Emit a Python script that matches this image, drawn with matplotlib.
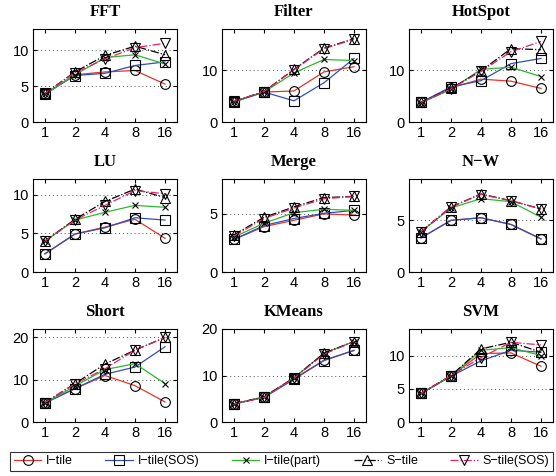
import numpy as np
import matplotlib
matplotlib.use("Agg")
import matplotlib.pyplot as plt

threads = ["1", "2", "4", "8", "16"]
series_names = ["I\u2212tile", "I\u2212tile(SOS)", "I\u2212tile(part)", "S\u2212tile", "S\u2212tile(SOS)"]

# speedup per benchmark: I-tile, I-tile(SOS), I-tile(part), S-tile, S-tile(SOS)
fft = [[3.9, 6.6, 7.0, 7.2, 5.3],
       [3.9, 6.5, 6.8, 7.9, 8.4],
       [3.9, 6.6, 9.0, 9.4, 8.1],
       [4.0, 7.0, 9.3, 10.6, 9.4],
       [4.0, 6.9, 8.8, 10.4, 11.0]]
filt = [[3.9, 5.8, 6.0, 9.7, 10.7],
        [3.9, 5.8, 4.1, 7.6, 12.3],
        [3.9, 5.8, 9.5, 12.1, 11.9],
        [4.0, 5.9, 10.2, 14.3, 16.1],
        [4.0, 5.9, 10.1, 14.2, 16.0]]
hotspot = [[3.8, 6.6, 8.3, 7.9, 6.5],
           [3.8, 6.8, 8.0, 11.3, 12.3],
           [3.7, 6.3, 10.2, 10.6, 8.8],
           [3.8, 6.5, 9.9, 14.2, 14.0],
           [3.8, 6.4, 9.8, 13.6, 15.6]]
lu = [[2.35, 4.9, 5.8, 6.8, 4.35],
      [2.35, 4.9, 5.7, 7.0, 6.7],
      [4.0, 6.7, 7.7, 8.6, 8.35],
      [4.0, 6.8, 9.1, 10.7, 9.6],
      [4.0, 6.7, 8.6, 10.5, 10.1]]
merge = [[2.8, 3.9, 4.45, 5.0, 4.9],
         [2.8, 4.0, 4.6, 5.05, 5.3],
         [3.0, 4.2, 5.1, 5.4, 5.3],
         [3.2, 4.7, 5.6, 6.4, 6.5],
         [3.1, 4.6, 5.5, 6.3, 6.5]]
nw = [[3.3, 5.0, 5.25, 4.6, 3.2],
      [3.3, 5.0, 5.25, 4.6, 3.2],
      [3.9, 6.2, 7.1, 6.8, 5.3],
      [3.9, 6.3, 7.55, 6.9, 6.1],
      [3.9, 6.3, 7.5, 6.9, 6.1]]
short = [[4.5, 7.9, 11.0, 8.6, 4.75],
         [4.5, 7.9, 11.3, 13.0, 17.8],
         [4.5, 8.5, 12.4, 13.8, 9.1],
         [4.6, 9.1, 13.7, 17.0, 20.0],
         [4.6, 9.0, 12.6, 17.0, 20.0]]
kmeans = [[3.9, 5.3, 9.3, 13.3, 15.4],
          [3.9, 5.3, 9.2, 13.2, 15.4],
          [3.9, 5.4, 9.5, 14.8, 17.3],
          [3.9, 5.4, 9.5, 14.8, 17.3],
          [3.9, 5.3, 9.4, 14.6, 17.3]]
svm = [[4.3, 6.9, 10.3, 10.4, 8.4],
       [4.3, 6.9, 9.2, 10.8, 10.5],
       [4.3, 6.9, 10.8, 11.2, 10.0],
       [4.3, 7.0, 11.0, 12.0, 10.5],
       [4.3, 7.0, 9.7, 12.0, 11.6]]

titles = ["FFT", "Filter", "HotSpot", "LU", "Merge", "N\u2212W", "Short", "KMeans", "SVM"]
data = [fft, filt, hotspot, lu, merge, nw, short, kmeans, svm]
ylims = [13, 18, 18, 12, 8, 9, 22, 20, 14]
yticks = [[0, 5, 10], [0, 10], [0, 10], [0, 5, 10], [0, 5], [0, 5],
          [0, 10, 20], [0, 10, 20], [0, 5, 10]]

colors = ["#e8332a", "#2f4fbf", "#2db82d", "black", "#e8226e"]
markers = ["o", "s", "x", "^", "v"]
msizes = [7, 7, 5, 7.5, 7.5]
styles = ["-", "-", "-", "-.", "-."]

W, H = 556, 476
fig = plt.figure(figsize=(W / 100, H / 100), dpi=100)
lefts = [33, 222, 409]
tops = [29, 179, 329]
aw, ah = 144, 93

x = np.arange(1, 6)
lines = []
for i in range(9):
    r, c = divmod(i, 3)
    ax = fig.add_axes([lefts[c] / W, 1 - (tops[r] + ah) / H, aw / W, ah / H])
    for k in range(5):
        ln, = ax.plot(x, data[i][k], linestyle=styles[k], color=colors[k], lw=0.9,
                      marker=markers[k], markersize=msizes[k], markerfacecolor="none",
                      markeredgecolor="black", markeredgewidth=0.8)
        if i == 0:
            lines.append(ln)
    ax.set_xlim(0.6, 5.4)
    ax.set_ylim(0, ylims[i])
    ax.set_xticks(x)
    ax.set_xticklabels(threads)
    ax.set_yticks(yticks[i])
    ax.yaxis.grid(True, linestyle=(0, (1, 3)), color="#555555", lw=0.7)
    ax.tick_params(direction="in", top=True, right=True, length=3,
                   labelsize=10.5, pad=3)
    for lab in ax.get_xticklabels() + ax.get_yticklabels():
        lab.set_family("Liberation Sans")
    ax.set_title(titles[i], fontfamily="Liberation Serif", fontweight="bold",
                 fontsize=12, pad=9)

leg = fig.legend(lines, series_names, loc="lower left", ncol=5,
                 bbox_to_anchor=(10 / W, 1 - 471 / H, 543 / W, 23 / H),
                 mode="expand", frameon=True, fancybox=False, edgecolor="black",
                 prop={"family": "Liberation Sans", "size": 9},
                 handlelength=2.2, handletextpad=0.4, columnspacing=0.8,
                 borderpad=0.3, borderaxespad=0)
leg.get_frame().set_linewidth(0.8)

fig.savefig("out.png", dpi=100)
